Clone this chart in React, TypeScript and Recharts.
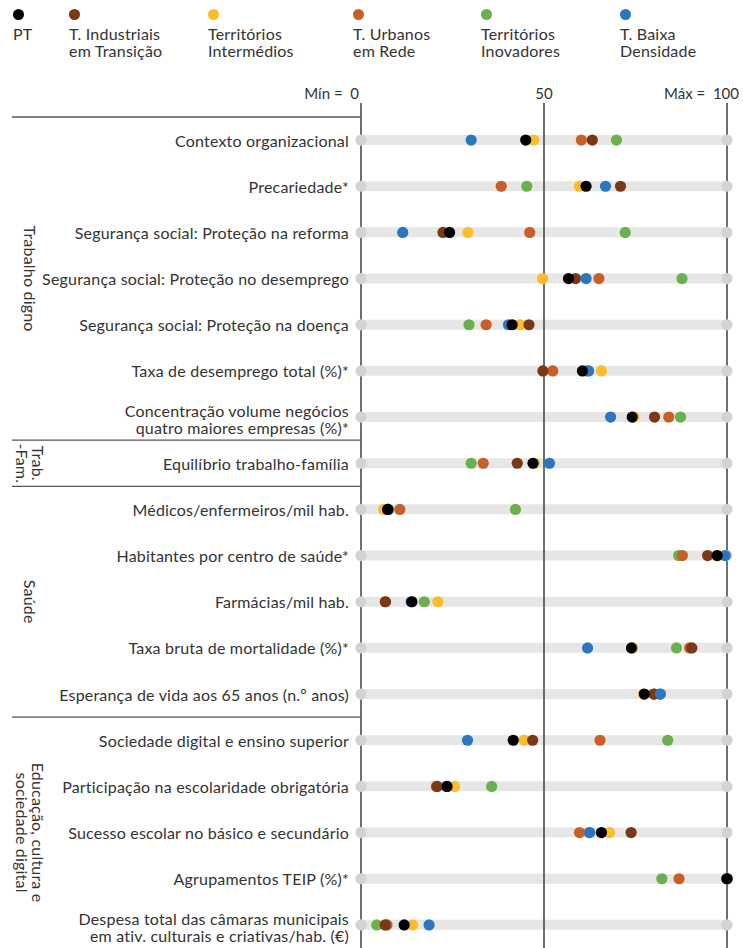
import { ComposedChart, Bar, Scatter, XAxis, YAxis, ReferenceLine } from "recharts";

const indicators = [
  "Contexto organizacional",
  "Precariedade*",
  "Segurança social: Proteção na reforma",
  "Segurança social: Proteção no desemprego",
  "Segurança social: Proteção na doença",
  "Taxa de desemprego total (%)*",
  "Concentração volume negócios\nquatro maiores empresas (%)*",
  "Equilíbrio trabalho-família",
  "Médicos/enfermeiros/mil hab.",
  "Habitantes por centro de saúde*",
  "Farmácias/mil hab.",
  "Taxa bruta de mortalidade (%)*",
  "Esperança de vida aos 65 anos (n.º anos)",
  "Sociedade digital e ensino superior",
  "Participação na escolaridade obrigatória",
  "Sucesso escolar no básico e secundário",
  "Agrupamentos TEIP (%)*",
  "Despesa total das câmaras municipais\nem ativ. culturais e criativas/hab. (€)",
];

// values on the 0 (min) – 100 (max) scale, one per indicator
const ptValues = [45.0, 61.5, 24.2, 56.7, 41.3, 60.5, 74.1, 47.0, 7.3, 97.3, 13.9, 73.9, 77.4, 41.6, 23.5, 65.7, 100, 11.8];
const industriais = [63.2, 70.9, 22.4, 58.6, 45.9, 49.7, 80.2, 42.7, 7.3, 94.7, 6.7, 90.4, 80.1, 46.9, 20.8, 73.8, 100, 6.6];
const intermedios = [47.2, 59.7, 29.2, 49.6, 43.4, 65.7, 74.6, 47.4, 6.2, 97.6, 21.0, 74.2, 77.2, 44.6, 25.6, 67.9, 100, 14.1];
const urbanos = [60.2, 38.3, 46.1, 65.0, 34.2, 52.4, 84.1, 33.4, 10.6, 87.8, 6.6, 89.8, 80.0, 65.3, 20.6, 59.7, 86.9, 7.1];
const inovadores = [69.8, 45.3, 72.2, 87.7, 29.5, 61.7, 87.3, 30.1, 42.2, 86.8, 17.3, 86.2, 81.6, 83.8, 35.7, 62.3, 82.2, 4.3];
const baixa = [30.1, 66.8, 11.4, 61.5, 40.3, 62.2, 68.2, 51.5, 7.5, 99.5, 13.7, 61.9, 81.8, 29.1, 23.4, 62.5, 100, 18.6];

const groups = [
  { start: 0, count: 7, lines: ["Trabalho digno"] },
  { start: 7, count: 1, lines: ["Trab.", "-Fam."] },
  { start: 8, count: 5, lines: ["Saúde"] },
  { start: 13, count: 5, lines: ["Educação, cultura e", "sociedade digital"] },
];

// legend order
const series = [
  { key: "pt", name: "PT", color: "#000000", values: ptValues },
  { key: "ind", name: "T. Industriais\nem Transição", color: "#7a3817", values: industriais },
  { key: "int", name: "Territórios\nIntermédios", color: "#fdbd2a", values: intermedios },
  { key: "urb", name: "T. Urbanos\nem Rede", color: "#c65f28", values: urbanos },
  { key: "inov", name: "Territórios\nInovadores", color: "#6ab04f", values: inovadores },
  { key: "bd", name: "T. Baixa\nDensidade", color: "#2a77bf", values: baixa },
];
// paint order (last on top)
const drawOrder = ["inov", "urb", "int", "ind", "bd", "pt"];

const legendX = [13, 69, 208, 353, 481, 620];

const W = 743;
const H = 948;
const TOP = 117;
const BAND = (H - TOP) / indicators.length;
const FONT = "Lato, 'Open Sans', sans-serif";
const TEXT = "#333";
const FS = 16;
const LS = 0.2;

const data = indicators.map((name, i) => {
  const row: Record<string, any> = { name, track: 100, lo: 0, hi: 100 };
  series.forEach((s) => (row[s.key] = s.values[i]));
  return row;
});

const dot = (color: string, r = 5.6) => (p: any) =>
  p.cx == null ? <g /> : <circle cx={p.cx} cy={p.cy} r={r} fill={color} />;

function RowTick(props: any) {
  const { x, y, payload, index } = props;
  const lines = String(payload.value).split("\n");
  const group = groups.find((g) => g.start === index);
  return (
    <g>
      {lines.map((ln, k) => (
        <text
          key={k}
          x={x}
          y={y + (k - (lines.length - 1) / 2) * 16.5 + (lines.length > 1 ? 2 : 0)}
          textAnchor="end"
          dominantBaseline="central"
          fontSize={FS}
          letterSpacing={LS}
          fontFamily={FONT}
          fill={TEXT}
        >
          {ln}
        </text>
      ))}
      {group && (
        <g>
          <line x1={12} x2={361} y1={y - BAND / 2} y2={y - BAND / 2} stroke="#555" strokeWidth={1.3} />
          <text
            transform={`translate(30,${y + ((group.count - 1) / 2) * BAND}) rotate(90)`}
            textAnchor="middle"
            fontSize={FS}
            letterSpacing={LS}
            fontFamily={FONT}
            fill={TEXT}
          >
            {group.lines.map((l, k) => (
              <tspan key={k} x={0} y={(k - (group.lines.length - 1) / 2) * 16} dominantBaseline="central">
                {l}
              </tspan>
            ))}
          </text>
        </g>
      )}
    </g>
  );
}

function ScaleTick(props: any) {
  const { x, y, payload } = props;
  const v = payload.value;
  const label = v === 0 ? "Mín =  0" : v === 100 ? "Máx =  100" : String(v);
  const anchor = v === 50 ? "middle" : "end";
  const tx = v === 0 ? x - 2 : v === 100 ? x + 12 : x;
  return (
    <text x={tx} y={y - 2} textAnchor={anchor} fontSize={15} fontFamily={FONT} fill={TEXT} style={{ whiteSpace: "pre" }}>
      {label}
    </text>
  );
}

function Legend() {
  return (
    <>
      {series.map((s, i) => (
        <div key={s.key} style={{ position: "absolute", left: legendX[i], top: 9 }}>
          <div style={{ width: 11, height: 11, borderRadius: "50%", background: s.color }} />
          <div
            style={{
              marginTop: 6,
              fontSize: FS,
              letterSpacing: LS,
              lineHeight: "16.5px",
              color: TEXT,
              fontFamily: FONT,
              whiteSpace: "pre",
            }}
          >
            {s.name}
          </div>
        </div>
      ))}
    </>
  );
}

export default function App() {
  return (
    <div style={{ position: "absolute", left: 0, top: 0, width: W, height: H, overflow: "hidden", background: "#fff" }}>
      <Legend />
      <ComposedChart
        width={W}
        height={H}
        data={data}
        layout="vertical"
        margin={{ top: 87, right: 16, bottom: 0, left: 0 }}
      >
        <XAxis
          type="number"
          orientation="top"
          domain={[0, 100]}
          ticks={[0, 50, 100]}
          height={30}
          tickSize={14}
          tickLine={{ stroke: "#222", strokeWidth: 1.3 }}
          axisLine={false}
          tick={(p: any) => <ScaleTick {...p} />}
        />
        <YAxis
          type="category"
          dataKey="name"
          width={361}
          interval={0}
          tickLine={false}
          axisLine={false}
          tickSize={0}
          tickMargin={12}
          tick={(p: any) => <RowTick {...p} />}
        />
        <Bar dataKey="track" barSize={10} fill="#e6e7e5" isAnimationActive={false} />
        <ReferenceLine x={0} stroke="#222" strokeWidth={1.3} />
        <ReferenceLine x={50} stroke="#222" strokeWidth={1.3} />
        <ReferenceLine x={100} stroke="#222" strokeWidth={1.3} />
        <Scatter dataKey="lo" shape={dot("#d3d3d6")} isAnimationActive={false} />
        <Scatter dataKey="hi" shape={dot("#d3d3d6")} isAnimationActive={false} />
        {drawOrder.map((k) => {
          const s = series.find((d) => d.key === k)!;
          return <Scatter key={k} dataKey={k} name={s.name} shape={dot(s.color)} isAnimationActive={false} />;
        })}
      </ComposedChart>
    </div>
  );
}
